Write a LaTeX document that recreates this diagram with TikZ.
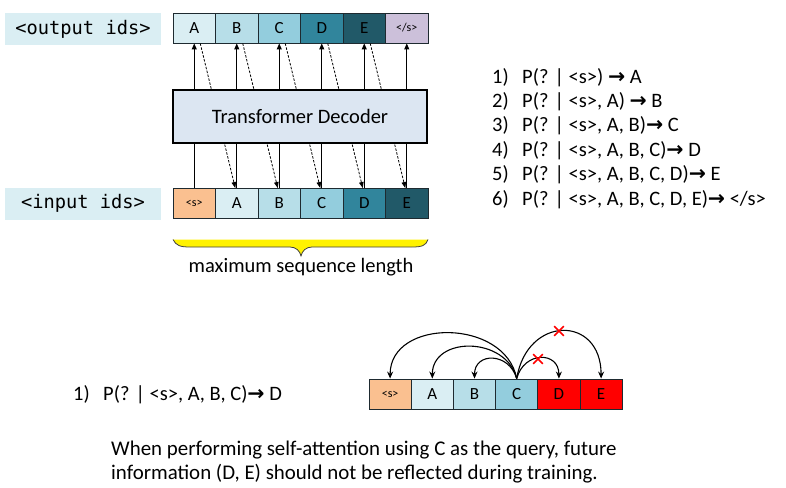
\documentclass[tikz,border=0pt]{standalone}
\usepackage{fontspec}
\setmainfont{Carlito}
\newfontfamily\monofont{DejaVu Sans Mono}
\newfontfamily\arrowfont{DejaVu Sans}
\usetikzlibrary{arrows.meta,shapes.misc}
\definecolor{lblue}{HTML}{DAEEF3}
\definecolor{cA}{HTML}{DAEEF3}
\definecolor{cB}{HTML}{B7DEE8}
\definecolor{cC}{HTML}{93CDDD}
\definecolor{cD}{HTML}{31859C}
\definecolor{cE}{HTML}{215968}
\definecolor{cEnd}{HTML}{CCC0DA}
\definecolor{cS}{HTML}{FAC090}
\definecolor{decfill}{HTML}{DCE6F2}
\definecolor{cellline}{HTML}{1E2A30}
\newcommand{\rarr}{{\arrowfont\bfseries →}}
\tikzset{
  cell/.style={draw=cellline, line width=0.9pt, minimum width=42.5pt, minimum height=30pt, inner sep=0pt, font=\fontsize{17}{19}\selectfont},
  smallcell/.style={cell, font=\fontsize{12}{14}\selectfont},
  lbl/.style={fill=lblue, minimum width=156pt, minimum height=32pt, inner sep=0pt, font=\monofont\fontsize{18.7}{22}\selectfont},
  txt/.style={inner sep=0pt, font=\fontsize{20.5}{24}\selectfont},
  note/.style={inner sep=0pt, font=\fontsize{20.9}{24}\selectfont},
  uparr/.style={line width=1pt, -{Triangle[length=6pt,width=5pt]}},
  plain/.style={line width=1pt},
  dsh/.style={line width=0.8pt, dash pattern=on 2.5pt off 1.5pt, -{Triangle[length=6pt,width=4.5pt]}},
  arcarr/.style={line width=1.1pt, -{Stealth[length=7pt,width=6pt]}},
  xmark/.style={cross out, draw=red, line width=1.6pt, minimum size=8pt, inner sep=0pt}
}
\begin{document}
\begin{tikzpicture}[x=1pt,y=-1pt]
\useasboundingbox (0,0) rectangle (786,487);

% labels
\node[lbl] (outlbl) at (83,29) {<output ids>};
\node[lbl] (inlbl) at (83,203.5) {<input ids>};

% output cells
\node[cell, fill=cA] (o1) at (194.25,28) {A};
\node[cell, fill=cB] (o2) at (236.75,28) {B};
\node[cell, fill=cC] (o3) at (279.25,28) {C};
\node[cell, fill=cD] (o4) at (321.75,28) {D};
\node[cell, fill=cE] (o5) at (364.25,28) {E};
\node[smallcell, fill=cEnd] (o6) at (406.75,28) {</s>};

% input cells
\node[smallcell, fill=cS] (i1) at (194.25,203.5) {<s>};
\node[cell, fill=cA] (i2) at (236.75,203.5) {A};
\node[cell, fill=cB] (i3) at (279.25,203.5) {B};
\node[cell, fill=cC] (i4) at (321.75,203.5) {C};
\node[cell, fill=cD] (i5) at (364.25,203.5) {D};
\node[cell, fill=cE] (i6) at (406.75,203.5) {E};

% dashed shift lines (behind decoder)
\draw[dsh] ([xshift=6pt]o1.south) -- ([xshift=-1.5pt]i2.north);
\draw[dsh] ([xshift=6pt]o2.south) -- ([xshift=-1.5pt]i3.north);
\draw[dsh] ([xshift=6pt]o3.south) -- ([xshift=-1.5pt]i4.north);
\draw[dsh] ([xshift=6pt]o4.south) -- ([xshift=-1.5pt]i5.north);
\draw[dsh] ([xshift=6pt]o5.south) -- ([xshift=-1.5pt]i6.north);

% decoder
\node[draw=black, line width=2pt, fill=decfill, minimum width=254pt, minimum height=53pt, inner sep=0pt, font=\fontsize{20.5}{24}\selectfont] (dec) at (300,116.5) {Transformer Decoder};

% solid lines
\foreach \c in {o1,o2,o3,o4,o5,o6} {\draw[uparr] (dec.north -| \c.south) -- (\c.south);}
\foreach \c in {i1,i2,i3,i4,i5,i6} {\draw[plain] (dec.south -| \c.north) -- (\c.north);}

% brace
\fill[yellow] (173,239.5) .. controls (176,245.5) and (180,247) .. (190,247) -- (290,247) .. controls (296,247) and (300,251) .. (301,256) .. controls (302,251) and (306,247) .. (312,247) -- (412,247) .. controls (422,247) and (426,245.5) .. (428,239.5) -- cycle;
\draw[black!75, line width=0.8pt] (173,239.5) .. controls (176,245.5) and (180,247) .. (190,247) -- (290,247) .. controls (296,247) and (300,251) .. (301,256) .. controls (302,251) and (306,247) .. (312,247) -- (412,247) .. controls (422,247) and (426,245.5) .. (428,239.5);
\node[txt, anchor=base] (maxlen) at (301,272) {maximum sequence length};

% list
\node[txt, anchor=base west] (n1) at (492,83) {1)};
\node[txt, anchor=base west] (p1) at (522,83) {P(? | <s>) \rarr{} A};
\node[txt, anchor=base west] (n2) at (492,107.4) {2)};
\node[txt, anchor=base west] (p2) at (522,107.4) {P(? | <s>, A) \rarr{} B};
\node[txt, anchor=base west] (n3) at (492,131.8) {3)};
\node[txt, anchor=base west] (p3) at (522,131.8) {P(? | <s>, A, B)\rarr{} C};
\node[txt, anchor=base west] (n4) at (492,156.2) {4)};
\node[txt, anchor=base west] (p4) at (522,156.2) {P(? | <s>, A, B, C)\rarr{} D};
\node[txt, anchor=base west] (n5) at (492,180.6) {5)};
\node[txt, anchor=base west] (p5) at (522,180.6) {P(? | <s>, A, B, C, D)\rarr{} E};
\node[txt, anchor=base west] (n6) at (492,205) {6)};
\node[txt, anchor=base west] (p6) at (522,205) {P(? | <s>, A, B, C, D, E)\rarr{} </s>};

% bottom example
\node[txt, anchor=base west] (bn1) at (73,400) {1)};
\node[txt, anchor=base west] (bp1) at (103,400) {P(? | <s>, A, B, C)\rarr{} D};

\node[smallcell, fill=cS, minimum width=42.2pt] (b1) at (390.1,394) {<s>};
\node[cell, fill=cA, minimum width=42.2pt] (b2) at (432.3,394) {A};
\node[cell, fill=cB, minimum width=42.2pt] (b3) at (474.5,394) {B};
\node[cell, fill=cC, minimum width=42.2pt] (b4) at (516.7,394) {C};
\node[cell, fill=red, minimum width=42.2pt] (b5) at (558.9,394) {D};
\node[cell, fill=red, minimum width=42.2pt] (b6) at (601.1,394) {E};

\draw[arcarr] (b4.north) .. controls (505,318) and (390.1,318) .. (b1.north);
\draw[arcarr] (b4.north) .. controls (506,336) and (432.3,336) .. (b2.north);
\draw[arcarr] (b4.north) .. controls (509,352) and (474.5,352) .. (b3.north);
\draw[arcarr] (b4.north) .. controls (524,351) and (558.9,351) .. (b5.north);
\draw[arcarr] (b4.north) .. controls (527,315) and (601.1,315) .. (b6.north);
\node[xmark] (x1) at (538,359) {};
\node[xmark] (x2) at (559,331) {};

\node[note, anchor=base west] (note1) at (111,455) {When performing self-attention using C as the query, future};
\node[note, anchor=base west] (note2) at (111,479) {information (D, E) should not be reflected during training.};
\end{tikzpicture}
\end{document}
